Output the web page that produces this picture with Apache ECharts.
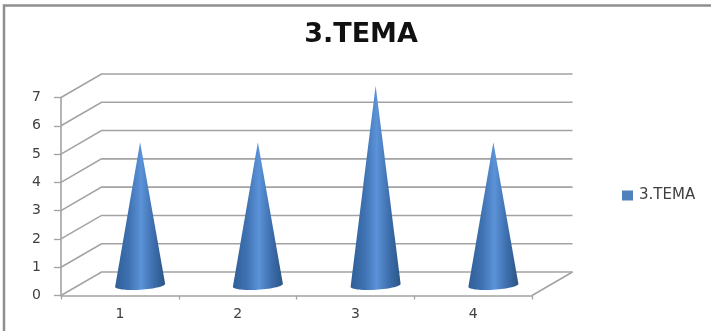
<!DOCTYPE html>
<html>
<head>
<meta charset="utf-8">
<style>html,body{margin:0;padding:0;background:#fff}#chart{width:711px;height:331px}</style>
<script src="https://cdn.jsdelivr.net/npm/echarts@6/dist/echarts.min.js"></script>
</head>
<body>
<div id="chart"></div>
<script>
// Cone chart with a drawn 3D floor and back wall
const chartTitle = '3.TEMA';
const categories = ['1', '2', '3', '4'];
const seriesValues = [5, 5, 7, 5];
const yTicks = [0, 1, 2, 3, 4, 5, 6, 7];

const DEPTH_X = 40.5, DEPTH_Y = -23.5;
const CONE_RX = 25, CONE_RY = 4.5, CONE_TILT = 1.5;
const GRID_COLOR = '#a3a3a3';
const TEXT_COLOR = '#404040';
const FONT = 'DejaVu Sans';

function renderWallLine(params, api) {
  const cs = params.coordSys;
  const y = api.coord([0, api.value(0)])[1];
  const left = cs.x, right = cs.x + cs.width;
  const floor = api.value(0) === 0;
  const shapes = [{
    type: 'polyline',
    silent: true,
    shape: { points: [[left, y], [left + DEPTH_X, y + DEPTH_Y], [right + DEPTH_X, y + DEPTH_Y]] },
    style: { fill: null, stroke: GRID_COLOR, lineWidth: 1.6 }
  }];
  if (floor) {
    shapes.push({
      type: 'line',
      silent: true,
      shape: { x1: right, y1: y, x2: right + DEPTH_X, y2: y + DEPTH_Y },
      style: { stroke: GRID_COLOR, lineWidth: 1.6 }
    });
  }
  return { type: 'group', children: shapes };
}

function renderCone(params, api) {
  const idx = api.value(0);
  const base = api.coord([idx, 0]);
  const top = api.coord([idx, api.value(1)]);
  const cx = base[0] + DEPTH_X / 2;
  const by = base[1] + DEPTH_Y / 2 + CONE_TILT;
  const apex = [top[0] + DEPTH_X / 2, top[1] + DEPTH_Y / 2];
  const pts = [apex];
  for (let a = 0; a <= 180; a += 6) {
    const r = a * Math.PI / 180;
    const dx = CONE_RX * Math.cos(r);
    pts.push([cx + dx, by + CONE_RY * Math.sin(r) - CONE_TILT * Math.cos(r)]);
  }
  return {
    type: 'polygon',
    shape: { points: pts },
    style: {
      fill: new echarts.graphic.LinearGradient(0, 0, 1, 0, [
        { offset: 0, color: '#2f5f98' },
        { offset: 0.28, color: '#3f72b2' },
        { offset: 0.52, color: '#5b92d8' },
        { offset: 0.78, color: '#3c6dab' },
        { offset: 1, color: '#2b5585' }
      ])
    }
  };
}

const chart = echarts.init(document.getElementById('chart'), null, { renderer: 'canvas' });
chart.setOption({
  animation: false,
  backgroundColor: '#ffffff',
  title: {
    text: chartTitle,
    left: 356,
    top: 16,
    textAlign: 'center',
    textStyle: { fontFamily: FONT, fontWeight: 'bold', fontSize: 27, color: '#111111' }
  },
  legend: {
    data: [chartTitle],
    left: 617,
    top: 183,
    itemWidth: 11,
    itemHeight: 10,
    itemGap: 0,
    icon: 'rect',
    textStyle: { fontFamily: FONT, fontSize: 15, color: TEXT_COLOR, padding: [0, 0, 0, 1] }
  },
  grid: { left: 61, right: 179, top: 97.5, bottom: 35.5 },
  xAxis: {
    type: 'category',
    data: categories,
    axisLine: { lineStyle: { color: GRID_COLOR, width: 1.6 } },
    axisTick: { show: true, length: 4, alignWithLabel: false, lineStyle: { color: GRID_COLOR, width: 1.3 } },
    axisLabel: { fontFamily: FONT, fontSize: 14, color: TEXT_COLOR, margin: 12 },
    splitLine: { show: false }
  },
  yAxis: {
    type: 'value',
    min: 0,
    max: 7,
    interval: 1,
    axisLine: { show: true, lineStyle: { color: GRID_COLOR, width: 1.6 } },
    axisTick: { show: true, length: 7, lineStyle: { color: GRID_COLOR, width: 1.3 } },
    axisLabel: { fontFamily: FONT, fontSize: 14, color: TEXT_COLOR, margin: 20 },
    splitLine: { show: false }
  },
  series: [
    {
      name: 'wall',
      type: 'custom',
      renderItem: renderWallLine,
      data: yTicks.map(v => [v]),
      encode: { y: 0 },
      silent: true,
      z: 1
    },
    {
      name: chartTitle,
      type: 'custom',
      renderItem: renderCone,
      data: seriesValues.map((v, i) => [i, v]),
      encode: { x: 0, y: 1 },
      itemStyle: { color: '#4f81bd' },
      z: 2
    }
  ],
  graphic: [{
    type: 'polyline',
    silent: true,
    shape: { points: [[4, 331], [4, 5.5], [711, 5.5]] },
    style: { fill: null, stroke: '#8f8f8f', lineWidth: 2.5 }
  }]
});
</script>
</body>
</html>
